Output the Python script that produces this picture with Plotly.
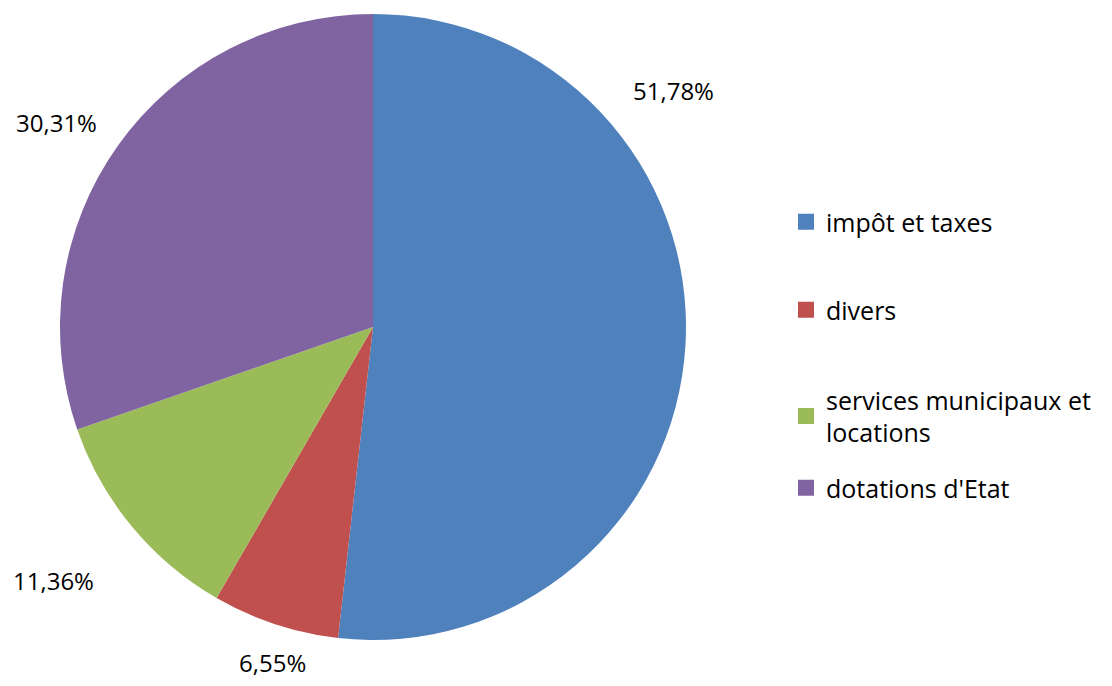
import plotly.graph_objects as go

categories = ["impôt et taxes", "divers", "services municipaux et<br>locations", "dotations d'Etat"]
values = [51.78, 6.55, 11.36, 30.31]
colors = ["#4F81BD", "#C0504D", "#9BBB59", "#8064A2"]
value_labels = ["51,78%", "6,55%", "11,36%", "30,31%"]

PAGE_W, PAGE_H = 1112, 686
OFF = 8  # default page body margin
W, H = PAGE_W - 2 * OFF, PAGE_H - 2 * OFF
FONT = "Open Sans"


def fx(px):
    return (px - OFF) / W


def fy(py):
    return 1 - (py - OFF) / H


fig = go.Figure()
cx, cy, r = 373, 327, 313
fig.add_trace(go.Pie(
    labels=categories, values=values, sort=False, direction="clockwise", rotation=0,
    marker=dict(colors=colors, line=dict(width=0)),
    textinfo="none", hoverinfo="label+percent", showlegend=False,
    domain=dict(x=[fx(cx - r), fx(cx + r)], y=[fy(cy + r), fy(cy - r)]),
))

# label text centres
label_pos = [(673, 90), (272, 662), (53, 580), (56, 123)]
for (px, py), t in zip(label_pos, value_labels):
    fig.add_annotation(x=fx(px), y=fy(py), xref="paper", yref="paper", text=t,
                       xanchor="center", yanchor="middle",
                       showarrow=False, font=dict(family=FONT, size=24, color="#000"))

# legend: one legend per item to reproduce the spacing
legend_mid = [222, 310, 416, 488]
layout_legends = {}
for i, (name, col, ly) in enumerate(zip(categories, colors, legend_mid)):
    key = "legend" if i == 0 else f"legend{i+1}"
    fig.add_trace(go.Scatter(x=[None], y=[None], mode="markers", name=name,
                             marker=dict(symbol="square", size=16, color=col),
                             legend=key, showlegend=True))
    layout_legends[key] = dict(x=fx(786), y=fy(ly), xanchor="left", yanchor="middle",
                               font=dict(family=FONT, size=25, color="#000"),
                               bgcolor="rgba(0,0,0,0)", itemsizing="trace")

fig.update_layout(
    width=W, height=H, margin=dict(l=0, r=0, t=0, b=0),
    paper_bgcolor="white", plot_bgcolor="white",
    xaxis=dict(visible=False), yaxis=dict(visible=False),
    **layout_legends,
)
fig.write_html("out.html")
